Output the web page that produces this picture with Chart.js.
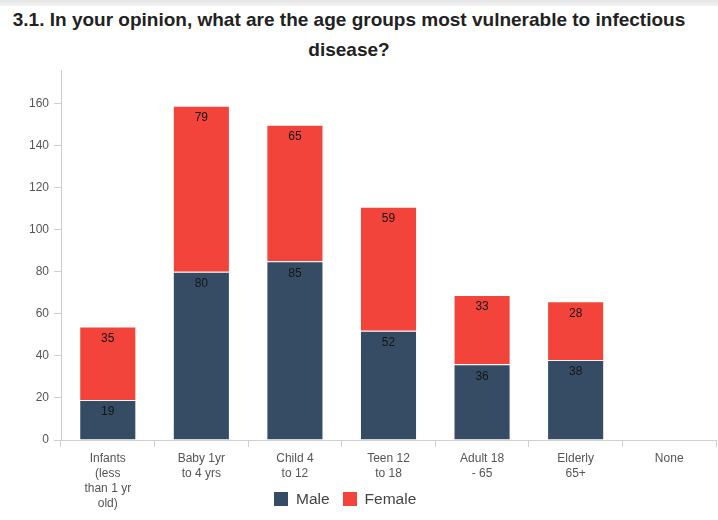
<!DOCTYPE html>
<html>
<head>
<meta charset="utf-8">
<script src="https://cdn.jsdelivr.net/npm/chart.js@4/dist/chart.umd.min.js"></script>
<style>
  html, body { margin: 0; padding: 0; background: #fff; }
  #wrap { position: relative; width: 718px; height: 520px; overflow: hidden; font-family: "Liberation Sans", Arial, sans-serif; }
  #topbar { position: absolute; left: 0; top: 0; width: 718px; height: 6px; background: linear-gradient(#e4e4e4, #f3f3f3); }
  #title { position: absolute; left: 0; top: 5px; width: 698px; text-align: center; font-weight: bold; font-size: 19px; line-height: 30px; color: #222; }
  #legend { position: absolute; left: 274px; top: 490px; display: flex; align-items: center; font-size: 15.5px; color: #444; }
  #legend span.box { display: inline-block; width: 14px; height: 14px; margin-right: 8px; }
  #legend span.item { display: flex; align-items: center; margin-right: 13px; }
  canvas { position: absolute; left: 0; top: 0; }
</style>
</head>
<body>
<div id="wrap">
  <div id="topbar"></div>
  <div id="title">3.1. In your opinion, what are the age groups most vulnerable to infectious<br>disease?</div>
  <canvas id="chart" width="718" height="520"></canvas>
  <div id="legend"></div>
</div>
<script>
// age groups, one label line per array entry
var categories = [
  ['Infants', '(less', 'than 1 yr', 'old)'],
  ['Baby 1yr', 'to 4 yrs'],
  ['Child 4', 'to 12'],
  ['Teen 12', 'to 18'],
  ['Adult 18', '- 65'],
  ['Elderly', '65+'],
  ['None']
];
var male = [19, 80, 85, 52, 36, 38, 0];
var female = [35, 79, 65, 59, 33, 28, 0];
var yTicks = [0, 20, 40, 60, 80, 100, 120, 140, 160];

var MALE_COLOR = '#364c64';
var FEMALE_COLOR = '#f2443b';

// value text near the top of each segment
var segmentLabels = {
  id: 'segmentLabels',
  afterDatasetsDraw: function(chart) {
    var ctx = chart.ctx;
    ctx.save();
    ctx.font = '12px "Liberation Sans", Arial, sans-serif';
    ctx.fillStyle = '#161616';
    ctx.textAlign = 'center';
    ctx.textBaseline = 'middle';
    chart.data.datasets.forEach(function(ds, i) {
      chart.getDatasetMeta(i).data.forEach(function(bar, j) {
        var v = ds.data[j];
        if (!v) return;
        ctx.fillText(String(v), bar.x, bar.y + 12);
      });
    });
    ctx.restore();
  }
};

var chart = new Chart(document.getElementById('chart'), {
  type: 'bar',
  data: {
    labels: categories,
    datasets: [
      { label: 'Male', data: male, backgroundColor: MALE_COLOR, borderColor: 'rgba(255,255,255,0.45)', borderWidth: 1 },
      { label: 'Female', data: female, backgroundColor: FEMALE_COLOR, borderColor: 'rgba(255,255,255,0.45)', borderWidth: 1 }
    ]
  },
  options: {
    responsive: false,
    animation: false,
    layout: { padding: { top: 70, right: 2, left: 0, bottom: 0 } },
    datasets: { bar: { categoryPercentage: 1, barPercentage: 0.61 } },
    plugins: {
      legend: { display: false },
      title: { display: false },
      tooltip: { enabled: false }
    },
    scales: {
      x: {
        stacked: true,
        grid: { drawOnChartArea: false, drawTicks: true, tickLength: 7, color: '#cfcfcf', offset: true },
        border: { display: true, color: '#cfcfcf' },
        ticks: {
          color: '#555',
          font: { family: '"Liberation Sans", Arial, sans-serif', size: 12, lineHeight: 1.25 },
          padding: 4,
          maxRotation: 0,
          autoSkip: false
        },
        afterFit: function(scale) { scale.height = 80; }
      },
      y: {
        stacked: true,
        min: 0,
        max: 176,
        grid: { drawOnChartArea: false, drawTicks: true, tickLength: 7, color: '#cfcfcf' },
        border: { display: true, color: '#cfcfcf' },
        ticks: {
          color: '#555',
          font: { family: '"Liberation Sans", Arial, sans-serif', size: 12 },
          padding: 5
        },
        afterBuildTicks: function(scale) {
          scale.ticks = yTicks.map(function(v) { return { value: v }; });
        },
        afterFit: function(scale) { scale.width = 61; }
      }
    }
  },
  plugins: [segmentLabels]
});

// legend built from the datasets
var legend = document.getElementById('legend');
chart.data.datasets.forEach(function(ds) {
  var item = document.createElement('span');
  item.className = 'item';
  var box = document.createElement('span');
  box.className = 'box';
  box.style.background = ds.backgroundColor;
  item.appendChild(box);
  item.appendChild(document.createTextNode(ds.label));
  legend.appendChild(item);
});
</script>
</body>
</html>
